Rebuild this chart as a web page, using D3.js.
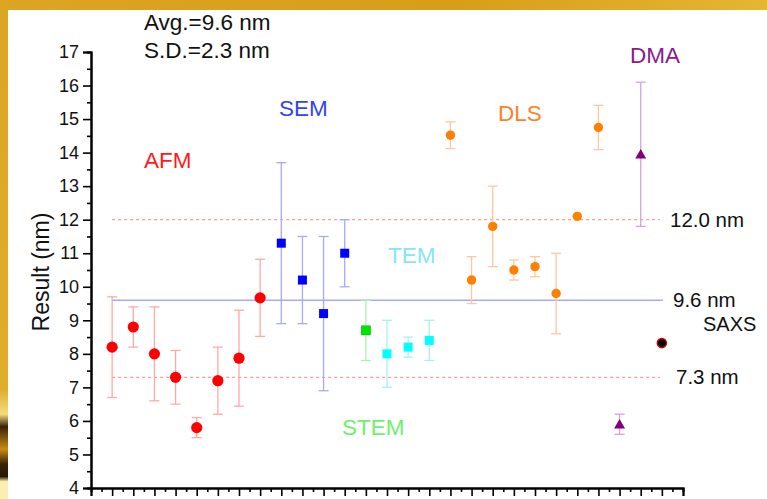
<!DOCTYPE html>
<html>
<head>
<meta charset="utf-8">
<script src="https://cdn.jsdelivr.net/npm/d3@7"></script>
<style>
  html, body { margin: 0; padding: 0; background: #fff; }
  svg { display: block; font-family: "Liberation Sans", Arial, sans-serif; }
</style>
</head>
<body>
<svg id="chart" width="767" height="499"></svg>
<script>
// Measured particle size per laboratory, grouped by technique
const afmX = [1, 2, 3, 4, 5, 6, 7, 8];
const afmVal = [8.2, 8.8, 8.0, 7.3, 5.8, 7.2, 7.87, 9.67];
const afmErr = [1.5, 0.6, 1.4, 0.8, 0.3, 1.0, 1.43, 1.15];

const semX = [9, 10, 11, 12];
const semVal = [11.3, 10.2, 9.2, 11.0];
const semErr = [2.4, 1.3, 2.3, 1.0];

const stemX = [13];
const stemVal = [8.7];
const stemErr = [0.9];

const temX = [14, 15, 16];
const temVal = [8.0, 8.2, 8.4];
const temErr = [1.0, 0.3, 0.6];

const dlsX = [17, 18, 19, 20, 21, 22, 23, 24];
const dlsVal = [14.52, 10.2, 11.8, 10.5, 10.6, 9.8, 12.1, 14.75];
const dlsErr = [0.4, 0.7, 1.2, 0.3, 0.3, 1.2, 0, 0.66];

const dmaX = [25, 26];
const dmaVal = [5.9, 13.95];
const dmaErr = [0.3, 2.15];

const saxsX = [27];
const saxsVal = [8.32];

const refLines = [12.0, 9.6, 7.3];
const refLabels = ["12.0 nm", "9.6 nm", "7.3 nm"];
const yTicks = [4, 5, 6, 7, 8, 9, 10, 11, 12, 13, 14, 15, 16, 17];

const svg = d3.select("#chart");

// Decorative frame along top and left edges
const defs = svg.append("defs");
const topGrad = defs.append("linearGradient").attr("id", "topGrad")
  .attr("x1", "0").attr("x2", "1").attr("y1", "0").attr("y2", "0");
topGrad.append("stop").attr("offset", "0").attr("stop-color", "#dba422");
topGrad.append("stop").attr("offset", "0.6").attr("stop-color", "#d99e18");
topGrad.append("stop").attr("offset", "1").attr("stop-color", "#e4b632");
const leftGrad = defs.append("linearGradient").attr("id", "leftGrad")
  .attr("x1", "0").attr("x2", "0").attr("y1", "0").attr("y2", "1");
[["0", "#dca524"], ["0.78", "#dfae2c"], ["0.83", "#f4dc7a"], ["0.855", "#3a2206"],
 ["0.9", "#c98a10"], ["0.93", "#3a2206"], ["0.955", "#2a1804"], ["0.965", "#fbeeb0"], ["1", "#fbeeb0"]]
  .forEach(([o, c]) => leftGrad.append("stop").attr("offset", o).attr("stop-color", c));

svg.append("rect").attr("x", 0).attr("y", 0).attr("width", 767).attr("height", 10).attr("fill", "url(#topGrad)");
svg.append("rect").attr("x", 0).attr("y", 0).attr("width", 8).attr("height", 499).attr("fill", "url(#leftGrad)");

const x = d3.scaleLinear().domain([0, 28]).range([91, 683]);
const y = d3.scaleLinear().domain([4, 17]).range([488, 52]);

// Reference lines
const lineX0 = x(1), lineX1 = x(27) - 2;
svg.append("line").attr("x1", lineX0).attr("x2", lineX1)
  .attr("y1", y(refLines[0])).attr("y2", y(refLines[0]))
  .attr("stroke", "#ff8080").attr("stroke-width", 1).attr("stroke-dasharray", "3,3");
svg.append("line").attr("x1", lineX0).attr("x2", x(27) + 1)
  .attr("y1", y(refLines[1])).attr("y2", y(refLines[1]))
  .attr("stroke", "#a8a8ff").attr("stroke-width", 1.6);
svg.append("line").attr("x1", lineX0).attr("x2", lineX1)
  .attr("y1", y(refLines[2])).attr("y2", y(refLines[2]))
  .attr("stroke", "#ff8080").attr("stroke-width", 1).attr("stroke-dasharray", "3,3");

const refLabelX = [670, 673, 676];
refLines.forEach((v, i) => {
  svg.append("text").attr("x", refLabelX[i]).attr("y", y(v) + 7)
    .attr("font-size", 20.5).attr("fill", "#111").text(refLabels[i]);
});

// Error bars
function errorBars(xs, vals, errs, color) {
  const g = svg.append("g").attr("stroke", color).attr("stroke-width", 1.3).attr("fill", "none");
  xs.forEach((xv, i) => {
    const e = errs[i];
    if (!e) return;
    const cx = x(xv), y0 = y(vals[i] - e), y1 = y(vals[i] + e);
    g.append("line").attr("x1", cx).attr("x2", cx).attr("y1", y0).attr("y2", y1);
    g.append("line").attr("x1", cx - 5).attr("x2", cx + 5).attr("y1", y0).attr("y2", y0);
    g.append("line").attr("x1", cx - 5).attr("x2", cx + 5).attr("y1", y1).attr("y2", y1);
  });
}
errorBars(afmX, afmVal, afmErr, "#ffa8a8");
errorBars(semX, semVal, semErr, "#a8a8ff");
errorBars(stemX, stemVal, stemErr, "#aef2ae");
errorBars(temX, temVal, temErr, "#a5f2f6");
errorBars(dlsX, dlsVal, dlsErr, "#ffc7a0");
errorBars(dmaX, dmaVal, dmaErr, "#d2a6d2");

// Markers
svg.append("g").selectAll("circle").data(afmX).join("circle")
  .attr("cx", d => x(d)).attr("cy", (d, i) => y(afmVal[i])).attr("r", 5.6).attr("fill", "#ff0000");
svg.append("g").selectAll("rect").data(semX).join("rect")
  .attr("x", d => x(d) - 4.5).attr("y", (d, i) => y(semVal[i]) - 4.5)
  .attr("width", 9).attr("height", 9).attr("fill", "#0000ff");
svg.append("g").selectAll("rect").data(stemX).join("rect")
  .attr("x", d => x(d) - 4.5).attr("y", (d, i) => y(stemVal[i]) - 4.5)
  .attr("width", 9).attr("height", 9).attr("fill", "#00e600").attr("stroke", "#00b000").attr("stroke-width", 0.6);
svg.append("g").selectAll("rect").data(temX).join("rect")
  .attr("x", d => x(d) - 4.5).attr("y", (d, i) => y(temVal[i]) - 4.5)
  .attr("width", 9).attr("height", 9).attr("fill", "#00ffff");
svg.append("g").selectAll("circle").data(dlsX).join("circle")
  .attr("cx", d => x(d)).attr("cy", (d, i) => y(dlsVal[i])).attr("r", 4.7).attr("fill", "#ff8000");
const tri = d3.symbol().type(d3.symbolTriangle).size(52);
svg.append("g").selectAll("path").data(dmaX).join("path")
  .attr("transform", (d, i) => `translate(${x(d)},${y(dmaVal[i]) + 1})`)
  .attr("d", tri).attr("fill", "#800080");
svg.append("g").selectAll("circle").data(saxsX).join("circle")
  .attr("cx", d => x(d)).attr("cy", (d, i) => y(saxsVal[i])).attr("r", 4.6)
  .attr("fill", "#000").attr("stroke", "#e00000").attr("stroke-width", 1.4);

// Axes
const yAxis = svg.append("g").attr("transform", `translate(${x(0)},0)`)
  .call(d3.axisLeft(y).tickValues(yTicks).tickFormat(d3.format("d")).tickSize(8).tickPadding(4));
const yMinor = svg.append("g").attr("transform", `translate(${x(0)},0)`)
  .call(d3.axisLeft(y).tickValues(yTicks.slice(0, -1).map(v => v + 0.5)).tickFormat("").tickSize(4));
const xMajor = d3.range(0, 29);
const xAxis = svg.append("g").attr("transform", `translate(0,${y(4)})`)
  .call(d3.axisBottom(x).tickValues(xMajor).tickFormat("").tickSize(8));
const xMinor = svg.append("g").attr("transform", `translate(0,${y(4)})`)
  .call(d3.axisBottom(x).tickValues(xMajor.slice(0, -1).map(v => v + 0.5)).tickFormat("").tickSize(4));
[yAxis, yMinor, xAxis, xMinor].forEach(g => {
  g.select(".domain").attr("stroke", "#000").attr("stroke-width", 2);
  g.selectAll(".tick line").attr("stroke", "#000").attr("stroke-width", 1.6);
});
yAxis.selectAll("text").attr("font-size", 18).attr("fill", "#111")
  .attr("font-family", "Liberation Sans, Arial, sans-serif");

svg.append("text").attr("transform", `translate(49,272) rotate(-90)`)
  .attr("text-anchor", "middle").attr("font-size", 23).attr("fill", "#111").text("Result (nm)");

// Summary statistics
svg.append("text").attr("x", 144).attr("y", 30).attr("font-size", 22.5).attr("fill", "#111").text("Avg.=9.6 nm");
svg.append("text").attr("x", 144).attr("y", 58).attr("font-size", 22.5).attr("fill", "#111").text("S.D.=2.3 nm");

// Technique labels
const techNames = ["AFM", "SEM", "TEM", "STEM", "DLS", "DMA", "SAXS"];
const techColors = ["#ff1a1a", "#2f45f0", "#85e6f5", "#6ef06e", "#ff7f2a", "#8b1a8b", "#111"];
const techPos = [[144, 168], [279, 116], [388, 263], [342, 435], [498, 121], [630, 63], [703, 331]];
techNames.forEach((t, i) => {
  svg.append("text").attr("x", techPos[i][0]).attr("y", techPos[i][1])
    .attr("font-size", t === "SAXS" ? 20 : 22.5).attr("fill", techColors[i]).text(t);
});
</script>
</body>
</html>
